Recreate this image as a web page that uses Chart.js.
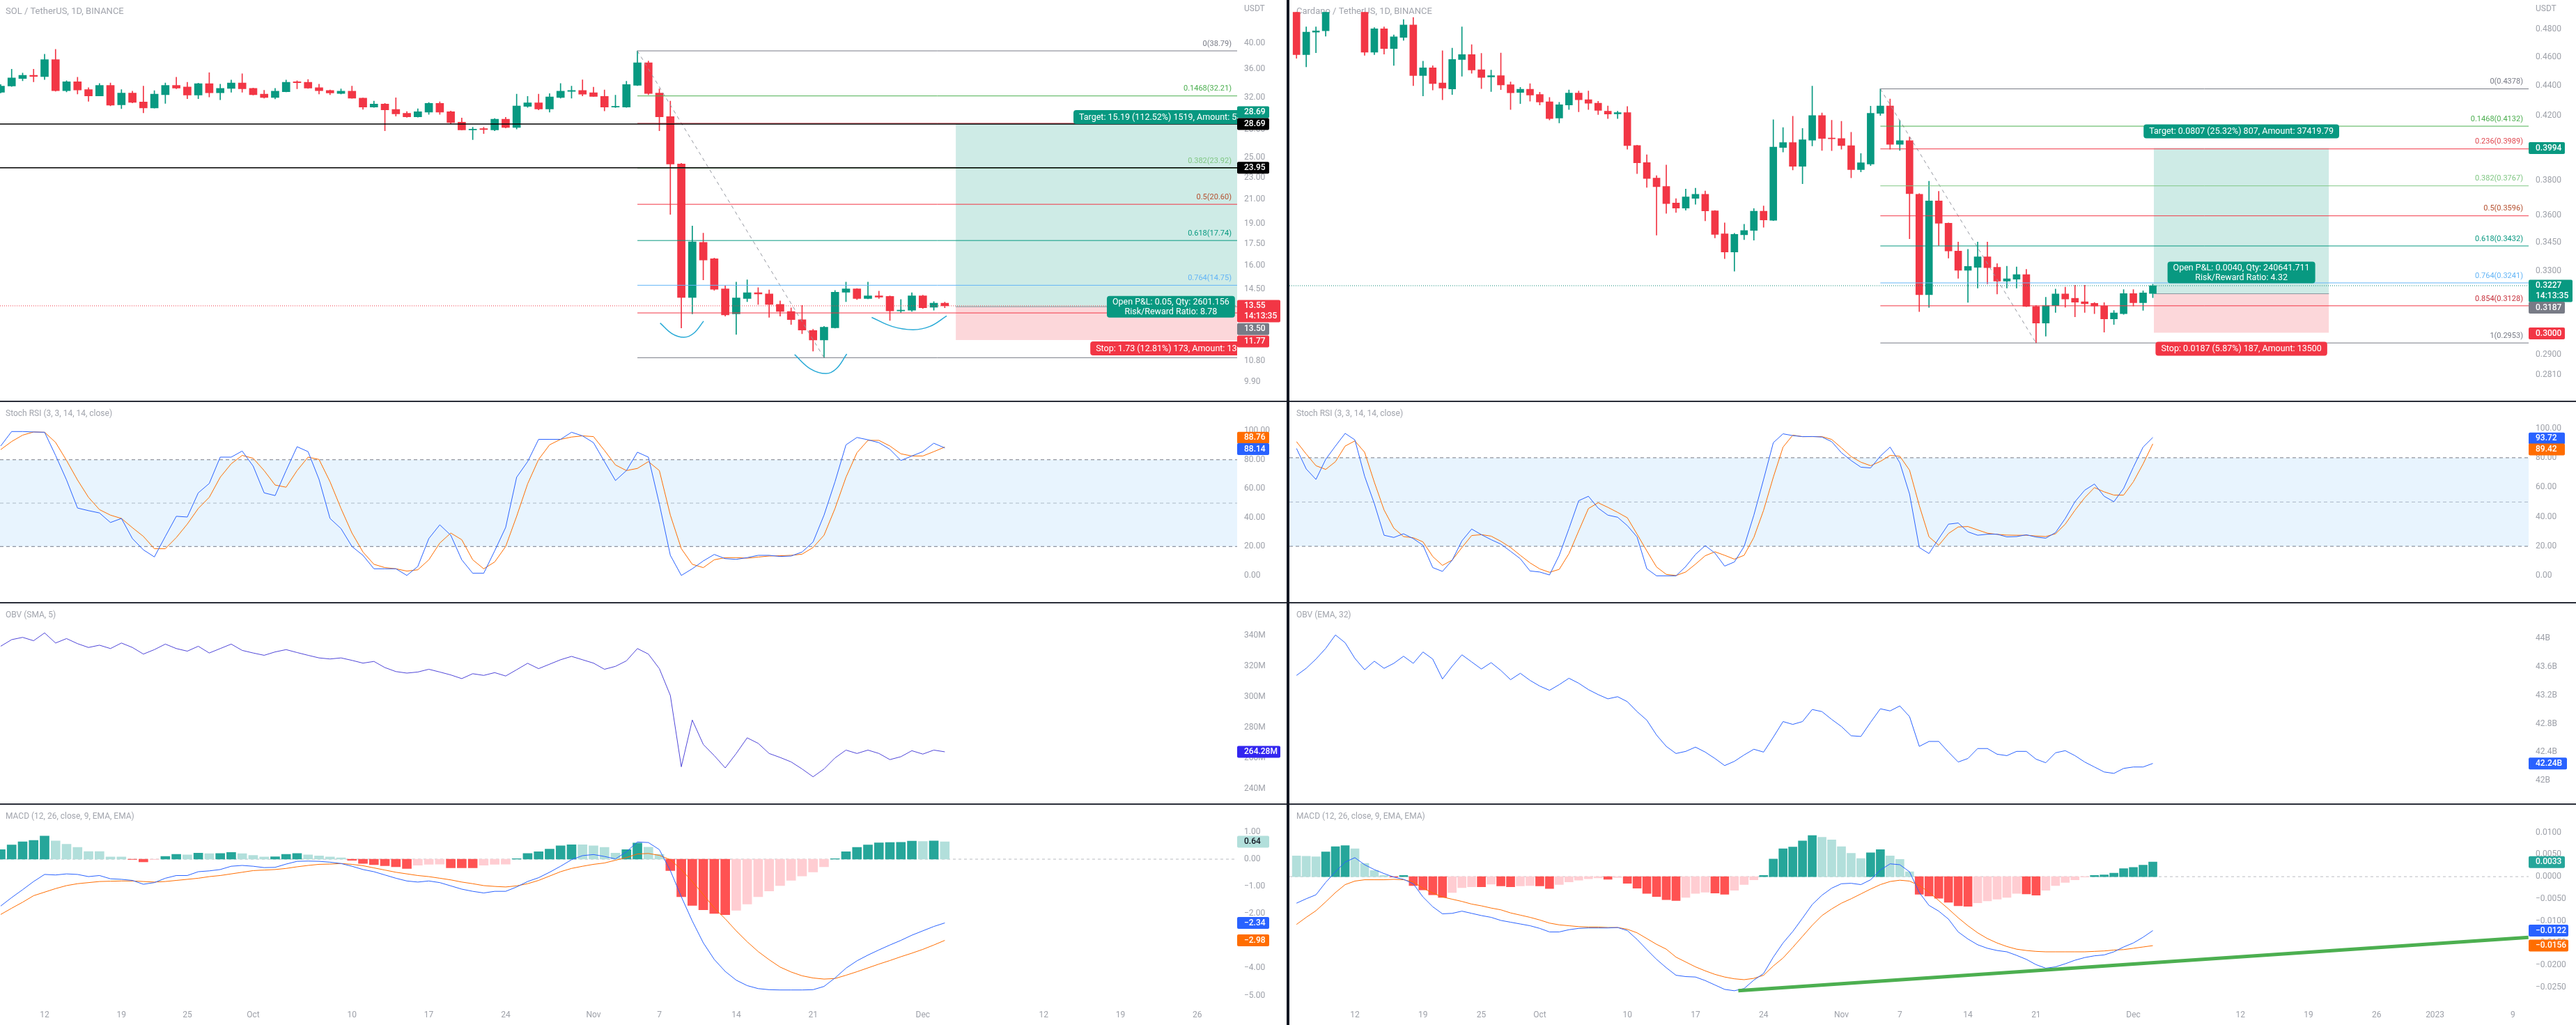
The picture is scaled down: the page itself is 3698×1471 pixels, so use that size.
<!DOCTYPE html>
<html><head><meta charset="utf-8"><title>SOL / ADA</title>
<script src="https://cdn.jsdelivr.net/npm/chart.js@4.4.1/dist/chart.umd.min.js"></script>
<style>
html,body{margin:0;padding:0;background:#fff;}
body{width:3698px;height:1471px;position:relative;overflow:hidden;}
canvas{position:absolute;display:block;}
.sep{position:absolute;background:#2a2e39;}
</style></head><body>
<script>
// ================= DATA =================
// x = day index. SOL: index 0 = 2022-09-08 ; ADA: index 0 = 2022-09-06 (last candle = Dec 3)
const solTickIdx  = [4,11,17,23,32,39,46,54,60,67,74,84,95,102,109];
const solTickText = ['12','19','25','Oct','10','17','24','Nov','7','14','21','Dec','12','19','26'];
const adaTickIdx  = [6,13,19,25,34,41,48,56,62,69,76,86,97,104,111,117,125];
const adaTickText = ['12','19','25','Oct','10','17','24','Nov','7','14','21','Dec','12','19','26','2023','9'];

const solPriceTicks = [40,36,32,28,25,23,21,19,17.5,16,14.5,13,10.8,9.9];
const adaPriceTicks = [0.48,0.46,0.44,0.42,0.40,0.38,0.36,0.345,0.33,0.31,0.29,0.281];
const stochTicks    = [0,20,40,60,80,100];
const solObvTicks   = [240,260,280,300,320,340];
const adaObvTicks   = [42,42.4,42.8,43.2,43.6,44];
const solMacdTicks  = [1,0,-1,-2,-3,-4,-5];
const adaMacdTicks  = [0.01,0.005,0,-0.005,-0.01,-0.015,-0.02,-0.025];

const solOpen = [32.69,33.55,34.62,35.06,34.89,37.41,32.91,34.14,33.07,32.22,
 33.65,31.06,32.60,31.42,30.65,32.38,33.65,33.42,32.32,33.88,
 32.63,33.23,33.97,33.23,32.44,32.00,32.78,34.14,34.07,33.33,
 32.94,32.53,32.85,31.91,30.76,31.15,30.47,29.98,29.55,30.12,
 31.24,30.18,28.90,28.00,28.14,28.00,29.27,28.28,30.85,31.30,
 30.53,32.00,32.82,32.94,32.63,32.16,30.76,30.76,33.65,36.92,
 32.60,29.58,24.32,14.03,17.60,16.45,14.53,13.11,13.96,14.30,
 14.23,13.63,13.24,12.80,12.24,11.77,12.38,14.33,14.53,13.96,
 14.12,14.09,13.27,13.31,14.12,13.47,13.70];
const solHigh = [33.75,35.96,35.39,35.96,38.27,39.02,34.30,34.79,33.33,33.91,
 33.97,33.07,32.85,33.55,32.91,33.97,34.79,34.07,33.95,35.46,
 33.81,34.40,35.29,33.28,32.97,33.23,34.40,34.30,34.46,33.81,
 33.01,33.17,33.55,31.95,31.54,31.24,31.97,30.21,30.56,31.36,
 31.45,30.27,29.41,28.30,28.30,29.35,29.49,32.44,32.16,32.44,
 32.53,33.91,33.55,34.43,33.40,33.01,32.32,34.23,38.79,37.20,
 33.17,31.54,24.40,18.83,18.29,16.50,14.71,14.94,15.08,14.61,
 14.47,13.83,13.44,13.57,12.30,12.45,14.44,14.94,14.55,14.94,
 14.40,14.12,13.91,14.30,14.16,13.79,13.76];
const solLow = [32.60,33.49,34.30,34.14,34.46,32.85,32.75,32.47,31.51,32.20,
 30.91,30.56,31.30,30.04,30.62,31.24,33.17,31.85,31.85,32.07,
 31.70,32.69,32.69,32.32,31.91,31.82,32.75,33.17,33.23,32.47,
 32.38,32.47,31.88,30.47,30.71,27.89,29.64,29.49,29.50,29.84,
 29.84,28.72,27.98,26.89,27.57,27.89,28.22,28.09,30.71,30.41,
 30.12,31.91,31.91,32.22,32.13,30.27,30.70,30.71,33.60,32.38,
 27.89,19.76,12.37,13.11,15.08,14.44,12.99,12.04,13.79,13.63,
 12.92,12.99,12.55,12.08,11.24,10.94,12.36,13.79,13.90,13.94,
 13.96,12.76,13.18,13.24,13.40,13.31,13.44];
const solClose = [33.55,34.69,35.06,34.92,37.41,32.91,34.14,33.01,32.22,33.65,
 31.00,32.60,31.36,30.65,32.44,33.65,33.26,32.32,33.88,32.63,
 33.23,33.97,33.17,32.38,32.00,32.85,34.07,34.01,33.26,32.91,
 32.60,32.85,31.91,30.76,31.15,30.41,29.92,29.55,30.18,31.24,
 30.12,28.85,28.00,28.09,28.03,29.27,28.28,30.91,31.30,30.53,
 32.07,32.85,32.94,32.44,32.13,30.76,30.82,33.75,36.92,32.53,
 29.55,24.32,14.03,17.64,16.37,14.51,13.05,14.00,14.30,14.23,
 13.63,13.24,12.80,12.26,11.77,12.41,14.33,14.53,13.96,14.12,
 14.05,13.27,13.31,14.12,13.44,13.70,13.55];

const adaOpen = [0.5050,0.4617,0.4780,0.4790,0.5050,0.5100,0.5080,0.5030,0.4634,0.4805,
 0.4660,0.4741,0.4834,0.4469,0.4523,0.4418,0.4377,0.4582,0.4617,0.4510,
 0.4460,0.4469,0.4406,0.4354,0.4375,0.4340,0.4291,0.4184,0.4270,0.4349,
 0.4305,0.4282,0.4229,0.4212,0.4220,0.4010,0.3905,0.3813,0.3764,0.3668,
 0.3639,0.3695,0.3718,0.3624,0.3497,0.3400,0.3492,0.3516,0.3622,0.3571,
 0.3998,0.4029,0.3883,0.4043,0.4201,0.4055,0.4054,0.4009,0.3863,0.3897,
 0.4215,0.4263,0.4017,0.4040,0.3718,0.3182,0.3680,0.3555,0.3405,0.3305,
 0.3320,0.3375,0.3320,0.3250,0.3260,0.3283,0.3125,0.3045,0.3129,0.3186,
 0.3165,0.3148,0.3140,0.3127,0.3065,0.3090,0.3188,0.3143,0.3188];
const adaHigh = [0.5120,0.4820,0.4820,0.5100,0.5180,0.5200,0.5250,0.5120,0.4814,0.4820,
 0.4760,0.4875,0.4890,0.4570,0.4538,0.4645,0.4663,0.4820,0.4688,0.4626,
 0.4507,0.4628,0.4425,0.4388,0.4413,0.4355,0.4320,0.4288,0.4371,0.4364,
 0.4364,0.4295,0.4264,0.4229,0.4260,0.4012,0.3953,0.3827,0.3891,0.3693,
 0.3748,0.3753,0.3737,0.3626,0.3557,0.3500,0.3549,0.3637,0.3651,0.4174,
 0.4123,0.4196,0.4118,0.4397,0.4218,0.4170,0.4163,0.4093,0.3961,0.4262,
 0.4378,0.4310,0.4170,0.4063,0.3722,0.3794,0.3735,0.3557,0.3453,0.3414,
 0.3453,0.3453,0.3339,0.3326,0.3322,0.3310,0.3130,0.3170,0.3210,0.3220,
 0.3229,0.3229,0.3144,0.3143,0.3105,0.3208,0.3208,0.3202,0.3235];
const adaLow = [0.4590,0.4530,0.4630,0.4750,0.4970,0.5010,0.4980,0.4612,0.4617,0.4620,
 0.4540,0.4720,0.4400,0.4330,0.4370,0.4305,0.4340,0.4464,0.4485,0.4380,
 0.4360,0.4373,0.4240,0.4279,0.4295,0.4270,0.4172,0.4153,0.4240,0.4225,
 0.4240,0.4207,0.4181,0.4181,0.3987,0.3839,0.3758,0.3490,0.3610,0.3615,
 0.3628,0.3661,0.3568,0.3475,0.3365,0.3300,0.3466,0.3463,0.3533,0.3569,
 0.3970,0.3861,0.3779,0.4008,0.3979,0.3978,0.3987,0.3814,0.3850,0.3887,
 0.4201,0.3987,0.3979,0.3470,0.3100,0.3120,0.3434,0.3368,0.3264,0.3145,
 0.3215,0.3236,0.3186,0.3215,0.3215,0.3124,0.2953,0.2984,0.3096,0.3121,
 0.3075,0.3096,0.3090,0.3003,0.3039,0.3087,0.3127,0.3106,0.3168];
const adaClose = [0.4617,0.4780,0.4790,0.5050,0.5100,0.5080,0.5030,0.4634,0.4805,0.4660,
 0.4746,0.4834,0.4469,0.4523,0.4414,0.4383,0.4582,0.4617,0.4508,0.4456,
 0.4469,0.4405,0.4351,0.4375,0.4336,0.4290,0.4181,0.4272,0.4349,0.4305,
 0.4281,0.4234,0.4210,0.4220,0.4010,0.3904,0.3810,0.3762,0.3665,0.3639,
 0.3703,0.3718,0.3624,0.3494,0.3400,0.3494,0.3515,0.3622,0.3573,0.4000,
 0.4029,0.3883,0.4046,0.4201,0.4054,0.4052,0.4010,0.3863,0.3904,0.4215,
 0.4263,0.4017,0.4040,0.3722,0.3182,0.3680,0.3555,0.3405,0.3305,0.3325,
 0.3375,0.3318,0.3250,0.3262,0.3283,0.3125,0.3045,0.3129,0.3186,0.3161,
 0.3146,0.3138,0.3127,0.3065,0.3094,0.3188,0.3143,0.3191,0.3227];

const solStochK = [89.5,99.5,99.5,99.2,99.0,83.0,66.0,46.6,44.8,43.2,
 36.6,39.4,25.5,17.7,12.8,27.0,40.9,40.4,57.1,63.6,
 81.8,81.8,86.0,75.6,57.1,55.2,72.5,89.0,85.6,66.4,
 39.4,32.4,20.0,13.9,4.6,4.6,4.6,0.0,6.2,25.5,
 35.0,27.8,10.8,1.5,1.5,17.0,33.2,67.9,78.7,94.1,
 94.1,94.1,99.0,96.5,91.8,78.7,65.6,72.5,85.2,81.8,
 49.4,13.9,0.0,4.6,10.0,14.5,11.6,11.1,12.3,13.9,
 13.9,13.1,13.4,16.2,23.1,41.7,64.8,90.3,95.4,93.8,
 91.8,87.2,79.5,82.6,85.6,91.4,88.14];
const solStochD = [87.0,92.6,97.0,99.2,99.0,92.0,79.5,66.0,54.0,45.5,
 41.7,39.4,33.0,27.0,18.5,18.5,26.2,35.5,46.3,54.0,
 67.9,77.2,83.0,81.0,72.5,62.5,61.0,72.5,81.8,80.2,
 64.8,46.3,29.3,16.2,7.7,5.4,4.6,3.0,3.9,10.8,
 22.4,29.3,24.7,10.8,4.6,9.3,20.0,40.9,63.3,80.2,
 90.3,94.1,95.7,96.5,96.0,86.4,76.4,72.5,74.0,78.7,
 72.5,41.7,18.5,7.7,5.4,10.8,12.3,12.3,11.9,12.7,
 13.4,13.6,13.9,14.7,19.3,27.8,46.3,67.9,84.9,93.4,
 93.4,89.5,84.1,82.6,82.6,85.6,88.76];
const adaStochK = [86.3,72.4,65.3,78.9,87.9,96.5,92.1,67.5,48.9,27.5,
 26.0,28.5,25.2,20.7,5.6,3.0,10.6,23.7,31.7,27.9,
 24.5,21.5,16.6,11.6,3.3,2.6,0.6,13.9,32.0,50.9,
 53.9,45.9,41.1,39.7,34.0,26.3,4.8,0.0,0.0,0.0,
 6.3,14.5,20.5,15.4,6.6,9.4,19.9,41.1,65.3,90.2,
 96.2,95.0,94.3,94.4,94.0,90.9,83.4,78.1,73.6,73.1,
 81.1,87.2,76.6,55.4,19.2,15.1,25.2,35.0,35.8,29.8,
 27.5,28.2,28.2,26.4,26.6,27.8,26.3,25.5,29.3,38.8,
 50.2,58.0,62.2,53.9,50.2,59.2,73.6,87.2,93.72];
const adaStochD = [90.9,82.5,74.6,72.1,77.3,87.9,91.4,83.7,63.4,44.6,
 32.3,26.6,25.8,23.0,13.1,7.1,10.7,19.2,27.3,27.9,
 26.9,23.4,19.2,13.9,8.8,4.7,2.4,4.4,15.0,30.4,
 45.6,49.5,46.4,43.0,39.3,28.2,16.9,6.0,1.0,0.2,
 2.6,7.9,13.6,16.3,13.9,11.3,13.9,26.0,44.4,66.8,
 87.2,95.3,94.3,94.3,94.3,92.4,86.7,80.8,77.0,74.6,
 77.5,81.6,81.0,71.6,47.6,26.4,20.7,28.7,33.1,33.4,
 31.1,28.9,28.1,27.6,27.5,27.5,27.0,26.6,28.5,35.0,
 44.4,52.9,59.8,56.9,54.7,54.7,63.7,75.8,89.42];

// OBV: SOL in millions, ADA in billions
const solObv = [333.1,337.4,338.9,336.7,341.8,335.2,338.1,334.8,332.3,333.8,
 331.6,335.2,332.3,328.0,330.9,334.5,331.6,329.9,333.1,328.7,
 331.6,334.5,330.4,328.7,327.2,329.4,330.9,329.0,327.2,325.5,
 324.8,325.5,323.9,322.1,323.2,319.2,316.6,315.6,316.3,318.1,
 316.3,314.4,312.0,315.2,314.1,315.9,313.7,317.8,322.0,318.5,
 321.4,324.3,326.5,324.3,322.1,318.1,320.0,323.6,331.6,328.0,
 318.5,301.0,254.5,285.0,269.1,261.8,253.8,263.2,273.4,269.8,
 263.2,260.6,257.7,253.1,248.0,253.1,260.3,265.4,263.2,265.4,
 263.2,259.2,261.1,265.0,262.8,265.4,264.28];
const adaObv = [43.48,43.58,43.71,43.86,44.05,43.94,43.72,43.56,43.68,43.58,
 43.65,43.75,43.65,43.81,43.71,43.43,43.61,43.77,43.67,43.57,
 43.66,43.55,43.42,43.51,43.41,43.33,43.27,43.35,43.44,43.37,
 43.28,43.21,43.15,43.18,43.11,42.97,42.85,42.64,42.48,42.38,
 42.41,42.47,42.40,42.31,42.21,42.27,42.36,42.44,42.40,42.61,
 42.83,42.79,42.83,43.00,42.97,42.86,42.76,42.63,42.62,42.82,
 43.01,42.98,43.05,42.90,42.48,42.55,42.55,42.40,42.26,42.31,
 42.45,42.45,42.37,42.35,42.41,42.41,42.30,42.25,42.39,42.42,
 42.35,42.26,42.19,42.12,42.10,42.17,42.19,42.19,42.24];

const solMacd = [-1.72,-1.41,-1.12,-0.82,-0.56,-0.58,-0.54,-0.56,-0.64,-0.60,
 -0.72,-0.74,-0.78,-0.92,-0.86,-0.70,-0.60,-0.60,-0.46,-0.43,
 -0.38,-0.26,-0.23,-0.26,-0.31,-0.30,-0.18,-0.08,-0.07,-0.08,
 -0.11,-0.16,-0.26,-0.38,-0.46,-0.58,-0.70,-0.80,-0.84,-0.80,
 -0.86,-0.98,-1.10,-1.18,-1.24,-1.18,-1.18,-1.02,-0.82,-0.68,
 -0.48,-0.26,-0.02,0.13,0.17,0.10,0.01,0.27,0.63,0.61,
 0.35,-0.42,-1.38,-2.27,-3.07,-3.68,-4.12,-4.44,-4.64,-4.75,
 -4.79,-4.80,-4.80,-4.80,-4.79,-4.67,-4.36,-4.00,-3.73,-3.52,
 -3.33,-3.15,-2.98,-2.79,-2.63,-2.47,-2.34];
const solSignal = [-2.03,-1.80,-1.58,-1.34,-1.21,-1.08,-0.97,-0.90,-0.86,-0.82,
 -0.81,-0.80,-0.80,-0.82,-0.84,-0.82,-0.78,-0.74,-0.70,-0.64,
 -0.60,-0.54,-0.48,-0.42,-0.40,-0.38,-0.34,-0.28,-0.23,-0.19,
 -0.18,-0.16,-0.19,-0.24,-0.32,-0.40,-0.48,-0.54,-0.60,-0.64,
 -0.70,-0.76,-0.84,-0.90,-0.97,-1.00,-1.02,-0.98,-0.90,-0.78,
 -0.62,-0.46,-0.34,-0.26,-0.19,-0.14,-0.04,0.06,0.19,0.21,
 0.14,-0.02,-0.38,-0.82,-1.30,-1.79,-2.19,-2.63,-3.03,-3.39,
 -3.69,-3.96,-4.14,-4.28,-4.36,-4.40,-4.38,-4.26,-4.13,-3.99,
 -3.85,-3.72,-3.58,-3.45,-3.31,-3.15,-2.98];
const solHist = [0.35,0.52,0.64,0.69,0.85,0.67,0.55,0.43,0.28,0.28,
 0.08,0.08,-0.01,-0.10,-0.02,0.10,0.18,0.16,0.22,0.20,
 0.21,0.25,0.20,0.14,0.08,0.09,0.18,0.21,0.16,0.12,
 0.08,0.05,-0.04,-0.16,-0.20,-0.24,-0.28,-0.34,-0.22,-0.19,
 -0.18,-0.32,-0.32,-0.32,-0.22,-0.19,-0.18,0.02,0.21,0.27,
 0.37,0.49,0.53,0.53,0.49,0.43,0.22,0.35,0.59,0.44,
 0.18,-0.42,-1.38,-1.70,-1.86,-1.99,-2.04,-1.88,-1.65,-1.38,
 -1.17,-0.97,-0.78,-0.62,-0.47,-0.28,0.02,0.27,0.43,0.52,
 0.60,0.61,0.62,0.66,0.65,0.67,0.64];
const solHistPrev = 0.20;

const adaMacd = [-0.0060,-0.0050,-0.0041,-0.0013,0.0011,0.0033,0.0043,0.0027,0.0016,0.0007,
 -0.0001,-0.0006,-0.0016,-0.0046,-0.0068,-0.0084,-0.0083,-0.0078,-0.0083,-0.0088,
 -0.0092,-0.0099,-0.0103,-0.0107,-0.0111,-0.0117,-0.0125,-0.0125,-0.0120,-0.0117,
 -0.0116,-0.0116,-0.0116,-0.0115,-0.0122,-0.0142,-0.0165,-0.0187,-0.0206,-0.0223,
 -0.0226,-0.0227,-0.0235,-0.0245,-0.0255,-0.0258,-0.0253,-0.0234,-0.0219,-0.0182,
 -0.0150,-0.0124,-0.0094,-0.0063,-0.0042,-0.0026,-0.0016,-0.0015,-0.0018,-0.0007,
 0.0015,0.0029,0.0027,0.0011,-0.0036,-0.0065,-0.0078,-0.0096,-0.0125,-0.0141,
 -0.0154,-0.0162,-0.0167,-0.0170,-0.0178,-0.0187,-0.0199,-0.0207,-0.0204,-0.0197,
 -0.0189,-0.0183,-0.0179,-0.0177,-0.0170,-0.0159,-0.0150,-0.0137,-0.0122];
const adaSignal = [-0.0108,-0.0092,-0.0077,-0.0057,-0.0036,-0.0018,-0.0010,-0.0007,-0.0007,-0.0007,
 -0.0006,-0.0007,-0.0012,-0.0026,-0.0037,-0.0046,-0.0051,-0.0056,-0.0062,-0.0066,
 -0.0071,-0.0075,-0.0082,-0.0087,-0.0092,-0.0098,-0.0105,-0.0109,-0.0111,-0.0113,
 -0.0114,-0.0114,-0.0115,-0.0115,-0.0119,-0.0127,-0.0140,-0.0153,-0.0164,-0.0182,
 -0.0193,-0.0204,-0.0213,-0.0221,-0.0227,-0.0231,-0.0233,-0.0230,-0.0223,-0.0202,
 -0.0184,-0.0160,-0.0135,-0.0110,-0.0088,-0.0073,-0.0060,-0.0050,-0.0039,-0.0028,
 -0.0018,-0.0011,-0.0008,-0.0010,-0.0020,-0.0035,-0.0054,-0.0073,-0.0093,-0.0111,
 -0.0127,-0.0140,-0.0150,-0.0158,-0.0164,-0.0167,-0.0169,-0.0170,-0.0170,-0.0170,
 -0.0170,-0.0170,-0.0169,-0.0168,-0.0166,-0.0165,-0.0162,-0.0159,-0.0156];
const adaHist = [0.0047,0.0046,0.0045,0.0056,0.0068,0.0070,0.0063,0.0030,0.0014,0.0003,
 -0.0001,0.0003,-0.0020,-0.0030,-0.0041,-0.0047,-0.0036,-0.0025,-0.0023,-0.0023,
 -0.0017,-0.0021,-0.0023,-0.0021,-0.0020,-0.0021,-0.0027,-0.0018,-0.0012,-0.0008,
 -0.0005,-0.0003,-0.0006,-0.0002,-0.0015,-0.0026,-0.0038,-0.0045,-0.0052,-0.0054,
 -0.0047,-0.0038,-0.0035,-0.0037,-0.0040,-0.0031,-0.0018,-0.0007,0.0003,0.0040,
 0.0063,0.0067,0.0081,0.0093,0.0089,0.0083,0.0068,0.0053,0.0041,0.0054,
 0.0061,0.0047,0.0039,0.0011,-0.0040,-0.0044,-0.0049,-0.0058,-0.0066,-0.0067,
 -0.0059,-0.0055,-0.0051,-0.0047,-0.0038,-0.0039,-0.0042,-0.0031,-0.0020,-0.0013,
 -0.0007,-0.0001,0.0003,0.0004,0.0008,0.0018,0.0021,0.0026,0.0033];
const adaHistPrev = 0.0060;

// Drawings
const fibRatios = ['0','0.1468','0.236','0.382','0.5','0.618','0.764','0.854','1'];
const solFibPrices = [38.79,32.21,28.77,23.92,20.60,17.74,14.75,13.16,10.94];
const adaFibPrices = [0.4378,0.4132,0.3989,0.3767,0.3596,0.3432,0.3241,0.3128,0.2953];
const solFibStart = 58, adaFibStart = 60;
const solTrend = [{x:58,y:38.79},{x:75,y:10.94}];
const adaTrend = [{x:60,y:0.4378},{x:76,y:0.2953}];
const solHLines = [28.69, 23.95];
const solPos = {start:87, end:126.7, entry:13.50, target:28.69, stop:11.77};
const adaPos = {start:88.1, end:106.1, entry:0.3187, target:0.3994, stop:0.3000};
const solPosText = {target:'Target: 15.19 (112.52%) 1519, Amount: 57381.25',
  pnl:['Open P&L: 0.05, Qty: 2601.156','Risk/Reward Ratio: 8.78'],
  stop:'Stop: 1.73 (12.81%) 173, Amount: 13500'};
const adaPosText = {target:'Target: 0.0807 (25.32%) 807, Amount: 37419.79',
  pnl:['Open P&L: 0.0040, Qty: 240641.711','Risk/Reward Ratio: 4.32'],
  stop:'Stop: 0.0187 (5.87%) 187, Amount: 13500'};
const solArcs = [
  [{x:60.07,y:12.62},{x:61.15,y:12.08},{x:62.24,y:11.90},{x:63.13,y:12.10},{x:64.03,y:12.72}],
  [{x:72.32,y:11.08},{x:73.76,y:10.45},{x:75.19,y:10.25},{x:76.13,y:10.46},{x:77.07,y:11.11}],
  [{x:79.34,y:12.92},{x:81.23,y:12.44},{x:83.12,y:12.28},{x:84.65,y:12.45},{x:86.17,y:13.00}]
];
const adaMacdTrend = [{x:45.4,y:-0.0258},{x:126.6,y:-0.01375}];
const solLast = 13.55, adaLast = 0.3227;

// ================= STYLE / LAYOUT =================
const FONT = 'Roboto, "Noto Sans", sans-serif';
const AXIS_COLOR = '#9ea1a9', TITLE_COLOR = '#a2a5ad';
const GREEN = '#089981', RED = '#f23645', BLUE = '#2962ff', ORANGE = '#ff6d00';
const fibLineColors = ['#787b86','#4caf50','#f23645','#81c784','#f23645','#089981','#64b5f6','#f23645','#787b86'];
const fibTextColors = ['#787b86','#4caf50','#e0474f','#81c784','#b5502f','#089981','#64b5f6','#c62f3a','#787b86'];

Chart.defaults.font.family = FONT;
Chart.defaults.font.size = 12;
Chart.defaults.animation = false;
Chart.defaults.events = [];
Chart.defaults.elements.point.radius = 0;
Chart.defaults.elements.point.hoverRadius = 0;
Chart.defaults.plugins.legend.display = false;
Chart.defaults.plugins.tooltip.enabled = false;

const COLS = {
  sol:{x:0, w:1847, axisW:71, xMin:-0.061, xMax:112.63, tickIdx:solTickIdx, tickText:solTickText, titleX:8},
  ada:{x:1851, w:1847, axisW:68, xMin:-0.73, xMax:126.62, tickIdx:adaTickIdx, tickText:adaTickText, titleX:10}
};
const PANES = {price:{y:0,h:576}, stoch:{y:577,h:288}, obv:{y:866,h:288}, macd:{y:1155,h:316}};

function xAxis(col, show){
  return {type:'linear', min:col.xMin, max:col.xMax, offset:false, display:show,
    grid:{display:false, drawTicks:false}, border:{display:false},
    afterBuildTicks:s=>{ s.ticks = col.tickIdx.map(v=>({value:v})); },
    afterFit:s=>{ if(show) s.height = 29; },
    ticks:{autoSkip:false, maxRotation:0, minRotation:0, padding:8, color:AXIS_COLOR, font:{size:12},
      callback:(v,i)=>col.tickText[i]}};
}
function yAxis(col, type, min, max, vals, fmt){
  return {type, position:'right', min, max,
    grid:{display:false, drawTicks:false}, border:{display:false},
    afterBuildTicks:s=>{ s.ticks = vals.map(v=>({value:v})); },
    afterFit:s=>{ s.width = col.axisW; },
    ticks:{autoSkip:false, padding:10, color:AXIS_COLOR, font:{size:12}, callback:v=>fmt(v)}};
}
const minus = s => s.replace('-', '\u2212');

function mk(col, pane, type, datasets, y, plugin, showX){
  const c = document.createElement('canvas');
  c.width = col.w; c.height = pane.h;
  c.style.left = col.x+'px'; c.style.top = pane.y+'px';
  c.style.width = col.w+'px'; c.style.height = pane.h+'px';
  document.body.appendChild(c);
  return new Chart(c.getContext('2d'), {
    type, data:{datasets},
    options:{responsive:false, maintainAspectRatio:false, devicePixelRatio:1, animation:false, events:[],
      layout:{padding:0}, scales:{x:xAxis(col, showX), y},
      plugins:{legend:{display:false}, tooltip:{enabled:false}}},
    plugins: plugin ? [plugin] : []
  });
}
function line(data, color, width, extra){
  return Object.assign({type:'line', data, borderColor:color, borderWidth:width, pointRadius:0, fill:false, tension:0, order:0}, extra||{});
}
function seg(x0,x1,y,color,width,extra){ return line([{x:x0,y},{x:x1,y}], color, width, extra); }
function series(arr){ return arr.map((v,i)=>({x:i,y:v})); }
function candles(O,H,L,C,bodyW){
  const cols = C.map((c,i)=> c>=O[i] ? GREEN : RED);
  return [
    {type:'bar', data:O.map((o,i)=>({x:i,y:[L[i],H[i]]})), backgroundColor:cols, barThickness:1, grouped:false, order:11},
    {type:'bar', data:O.map((o,i)=>({x:i,y:[o,C[i]]})), backgroundColor:cols, barThickness:bodyW, grouped:false, minBarLength:1, order:10}
  ];
}
function histColors(h, prev){
  return h.map((v,i)=>{ const p = i ? h[i-1] : prev;
    return v>=0 ? (v>p ? '#26a69a' : '#b2dfdb') : (v>p ? '#ffcdd2' : '#ff5252'); });
}

// ---- canvas drawing helpers (text / badges) ----
function txt(ctx,s,x,y,color,align,font){ ctx.font=font||('12px '+FONT); ctx.fillStyle=color; ctx.textAlign=align||'left'; ctx.textBaseline='middle'; ctx.fillText(s,x,y); }
function rrect(ctx,x,y,w,h,r){ ctx.beginPath(); if(ctx.roundRect) ctx.roundRect(x,y,w,h,r); else ctx.rect(x,y,w,h); }
function clipArea(ch){ const a=ch.chartArea; ch.ctx.beginPath(); ch.ctx.rect(a.left,a.top,a.right-a.left,a.bottom-a.top); ch.ctx.clip(); }
function badges(ch, list){
  const ctx=ch.ctx, ys=ch.scales.y, x=ch.chartArea.right;
  list.forEach(b=>{
    const y = ys.getPixelForValue(b.v) + (b.dy||0);
    const lh=15, h=b.t.length*lh+2;
    const top = b.t.length===1 ? y-h/2 : y-lh/2-1;
    ctx.save(); ctx.fillStyle=b.bg; rrect(ctx,x,top,b.w,h,2); ctx.fill();
    ctx.font='500 12px '+FONT; ctx.fillStyle=b.fg||'#fff'; ctx.textAlign='left'; ctx.textBaseline='middle';
    b.t.forEach((s,k)=>ctx.fillText(s, x+10, top+1+lh/2+k*lh));
    ctx.restore();
  });
}
function infoBox(ctx, cx, top, lines, bg){
  ctx.font='12.5px '+FONT;
  const w = Math.max(...lines.map(s=>ctx.measureText(s).width))+16;
  const h = lines.length===1 ? 20 : 31;
  ctx.fillStyle=bg; rrect(ctx,cx-w/2,top,w,h,4); ctx.fill();
  ctx.fillStyle='#fff'; ctx.textAlign='center'; ctx.textBaseline='middle';
  if(lines.length===1) ctx.fillText(lines[0],cx,top+h/2+0.5);
  else { ctx.fillText(lines[0],cx,top+9); ctx.fillText(lines[1],cx,top+23); }
}
function usdt(ch){ const ctx=ch.ctx,a=ch.chartArea; ctx.save(); ctx.fillStyle='#fff'; ctx.fillRect(a.right+1,0,ch.width-a.right,21); txt(ctx,'USDT',a.right+10,13,AXIS_COLOR,'left','12px '+FONT); ctx.restore(); }
function titlePlugin(col, title, badgeList){
  return {id:'ttl', beforeDatasetsDraw(ch){ ch.ctx.save(); txt(ch.ctx,title,col.titleX,17,TITLE_COLOR,'left','12px '+FONT); ch.ctx.restore(); },
    afterDraw(ch){ badges(ch, badgeList); }};
}

// ================= PRICE PANES =================
function pricePane(key, O,H,L,C, bodyW, fibP, fibStart, trend, pos, posText, hLines, arcs, last, lastColor, ticks, fmt, ymin, ymax, title, badgeList, lblOff){
  const col = COLS[key];
  const ds = [];
  ds.push(seg(pos.start,pos.end,pos.target,'rgba(0,0,0,0)',0,{fill:1, backgroundColor:'rgba(8,153,129,0.2)', order:30}));
  ds.push(seg(pos.start,pos.end,pos.entry,'#9598a1',1,{order:30}));
  ds.push(seg(pos.start,pos.end,pos.stop,'rgba(0,0,0,0)',0,{fill:1, backgroundColor:'rgba(242,54,69,0.2)', order:30}));
  fibP.forEach((p,k)=>ds.push(seg(fibStart,col.xMax,p,fibLineColors[k],1,{order:2})));
  ds.push(line(trend,'#9598a1',1,{borderDash:[5,5], order:2}));
  hLines.forEach(p=>ds.push(seg(col.xMin,col.xMax,p,'#000000',1.6,{order:1})));
  ds.push(seg(col.xMin,col.xMax,last,lastColor,1,{borderDash:[1,2], order:3}));
  arcs.forEach(a=>ds.push(line(a,'#26a9d6',1.5,{tension:0.4, order:0})));
  candles(O,H,L,C,bodyW).forEach(d=>ds.push(d));
  const dec = key==='sol' ? 2 : 4;
  const plugin = {id:'px',
    beforeDatasetsDraw(ch){ ch.ctx.save(); txt(ch.ctx,title,col.titleX,17,TITLE_COLOR,'left','13px '+FONT); ch.ctx.restore(); },
    afterDraw(ch){
      const ctx=ch.ctx, a=ch.chartArea, xs=ch.scales.x, ys=ch.scales.y;
      ctx.save(); clipArea(ch);
      fibP.forEach((p,k)=>txt(ctx, fibRatios[k]+'('+p.toFixed(dec)+')', a.right-8, ys.getPixelForValue(p)-10, fibTextColors[k], 'right', '11px '+FONT));
      const cx = xs.getPixelForValue((pos.start+pos.end)/2);
      infoBox(ctx, cx, ys.getPixelForValue(pos.target)+lblOff.target, [posText.target], GREEN);
      infoBox(ctx, cx+lblOff.pnlX, ys.getPixelForValue(pos.entry)+lblOff.pnl, posText.pnl, GREEN);
      infoBox(ctx, cx, ys.getPixelForValue(pos.stop)+lblOff.stop, [posText.stop], RED);
      ctx.restore();
      usdt(ch);
      badges(ch, badgeList);
    }};
  mk(col, PANES.price, 'bar', ds, yAxis(col,'logarithmic',ymin,ymax,ticks,fmt), plugin, false);
}

pricePane('sol', solOpen,solHigh,solLow,solClose, 11, solFibPrices, solFibStart, solTrend, solPos, solPosText, solHLines, solArcs,
  solLast, RED, solPriceTicks, v=>v.toFixed(2), 9.60, 45.54, 'SOL / TetherUS, 1D, BINANCE',
  [{v:28.69,t:['28.69'],bg:GREEN,dy:-17,w:46},{v:28.69,t:['28.69'],bg:'#000000',w:46},{v:23.95,t:['23.95'],bg:'#000000',w:46},
   {v:13.55,t:['13.55','14:13:35'],bg:RED,w:62},{v:13.50,t:['13.50'],bg:'#787b86',dy:32,w:46},{v:11.77,t:['11.77'],bg:RED,dy:2,w:46}],
  {target:-20, pnl:-15.5, pnlX:-4, stop:2});

pricePane('ada', adaOpen,adaHigh,adaLow,adaClose, 10, adaFibPrices, adaFibStart, adaTrend, adaPos, adaPosText, [], [],
  adaLast, '#0b8a75', adaPriceTicks, v=>v.toFixed(4), 0.2748, 0.4932, 'Cardano / TetherUS, 1D, BINANCE',
  [{v:0.3994,t:['0.3994'],bg:GREEN,w:52},{v:0.3227,t:['0.3227','14:13:35'],bg:GREEN,w:63},
   {v:0.3187,t:['0.3187'],bg:'#787b86',dy:20,w:52},{v:0.3000,t:['0.3000'],bg:RED,dy:1,w:52}],
  {target:-34, pnl:-46, pnlX:0, stop:13});

// ================= STOCH RSI =================
function stochPane(key, K, D, ymin, ymax, badgeList){
  const col = COLS[key];
  const ds = [
    line(series(K), BLUE, 1, {order:0}),
    line(series(D), ORANGE, 1, {order:0}),
    seg(col.xMin,col.xMax,80,'#787b86',1,{borderDash:[5,4], fill:4, backgroundColor:'rgba(33,150,243,0.1)', order:5}),
    seg(col.xMin,col.xMax,50,'rgba(120,123,134,0.5)',1,{borderDash:[5,4], order:5}),
    seg(col.xMin,col.xMax,20,'#787b86',1,{borderDash:[5,4], order:5})
  ];
  mk(col, PANES.stoch, 'line', ds, yAxis(col,'linear',ymin,ymax,stochTicks,v=>v.toFixed(2)),
     titlePlugin(col,'Stoch RSI (3, 3, 14, 14, close)',badgeList), false);
}
stochPane('sol', solStochK, solStochD, -10.6, 111.6,
  [{v:88.76,t:['88.76'],bg:ORANGE,dy:-13.3,w:46},{v:88.14,t:['88.14'],bg:BLUE,dy:1.7,w:46}]);
stochPane('ada', adaStochK, adaStochD, -10.1, 109.6,
  [{v:93.72,t:['93.72'],bg:BLUE,dy:1.3,w:52},{v:89.42,t:['89.42'],bg:ORANGE,dy:8,w:52}]);

// ================= OBV =================
mk(COLS.sol, PANES.obv, 'line', [line(series(solObv),'#4f46d8',1)],
   yAxis(COLS.sol,'linear',238,353.2,solObvTicks,v=>v+'M'),
   titlePlugin(COLS.sol,'OBV (SMA, 5)',[{v:264.28,t:['264.28M'],bg:'#3326f0',w:62}]), false);
mk(COLS.ada, PANES.obv, 'line', [line(series(adaObv),BLUE,1)],
   yAxis(COLS.ada,'linear',41.836,44.325,adaObvTicks,v=>v+'B'),
   titlePlugin(COLS.ada,'OBV (EMA, 32)',[{v:42.24,t:['42.24B'],bg:BLUE,w:55}]), false);

// ================= MACD =================
function macdPane(key, M, S, H, prev, ymin, ymax, ticks, fmt, barW, extra, badgeList){
  const col = COLS[key];
  const ds = [
    line(series(M), BLUE, 1, {order:0}),
    line(series(S), ORANGE, 1, {order:0}),
    {type:'bar', data:series(H), backgroundColor:histColors(H,prev), barThickness:barW, grouped:false, order:5},
    seg(col.xMin,col.xMax,0,'rgba(120,123,134,0.5)',1,{borderDash:[4,4], order:6})
  ];
  extra.forEach(d=>ds.push(d));
  mk(col, PANES.macd, 'bar', ds, yAxis(col,'linear',ymin,ymax,ticks,fmt),
     titlePlugin(col,'MACD (12, 26, close, 9, EMA, EMA)',badgeList), true);
}
macdPane('sol', solMacd, solSignal, solHist, solHistPrev, -5.344, 1.555, solMacdTicks, v=>minus(v.toFixed(2)), 13, [],
  [{v:0.64,t:['0.64'],bg:'#b2dfdb',fg:'#131722',w:46},{v:-2.34,t:['\u22122.34'],bg:BLUE,w:46},{v:-2.98,t:['\u22122.98'],bg:ORANGE,w:46}]);
macdPane('ada', adaMacd, adaSignal, adaHist, adaHistPrev, -0.02898, 0.01354, adaMacdTicks, v=>minus(v.toFixed(4)), 12,
  [line(adaMacdTrend,'#4caf50',5,{order:-1})],
  [{v:0.0033,t:['0.0033'],bg:'#26a69a',w:52},{v:-0.0122,t:['\u22120.0122'],bg:BLUE,w:57},{v:-0.0156,t:['\u22120.0156'],bg:ORANGE,w:57}]);

// ================= separators =================
function sepDiv(x,y,w,h,c){ const d=document.createElement('div'); d.className='sep'; d.style.cssText=`left:${x}px;top:${y}px;width:${w}px;height:${h}px;`+(c?`background:${c};`:''); document.body.appendChild(d); }
[575,864,1153].forEach(y=>{ sepDiv(0,y,1847,2); sepDiv(1851,y,1847,2); });
sepDiv(1847,0,4,1471,'#131722');
</script>
</body></html>
